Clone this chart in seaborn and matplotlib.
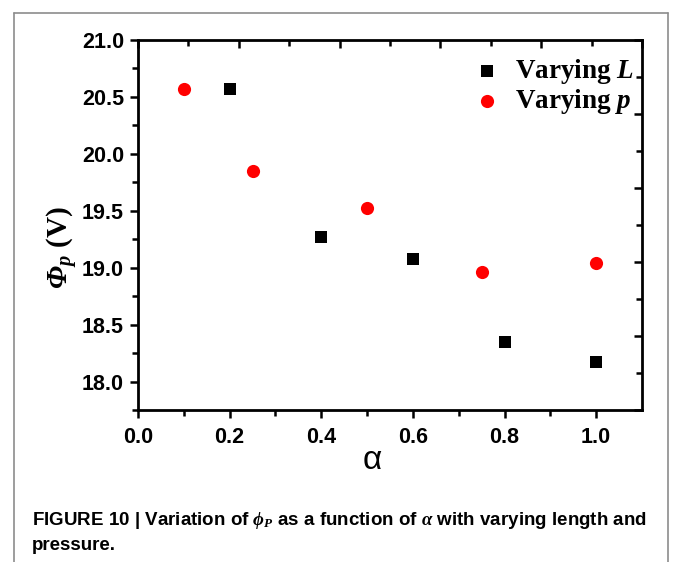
import numpy as np
import pandas as pd
import matplotlib
matplotlib.use('Agg')
import matplotlib.pyplot as plt
import seaborn as sns
from matplotlib.lines import Line2D

# ---- data ----
alpha_L = [0.2, 0.4, 0.6, 0.8, 1.0]
phi_L = [20.57, 19.27, 19.08, 18.35, 18.17]
alpha_p = [0.1, 0.25, 0.5, 0.75, 1.0]
phi_p = [20.57, 19.85, 19.52, 18.96, 19.04]
series_names = ['Varying $L$', 'Varying $p$']
xtick_vals = [0.0, 0.2, 0.4, 0.6, 0.8, 1.0]
ytick_vals = [18.0, 18.5, 19.0, 19.5, 20.0, 20.5, 21.0]
caption1 = r'FIGURE 10 | Variation of $\phi_P$ as a function of $\alpha$ with varying length and'
caption2 = 'pressure.'

sns.set_theme(style='ticks', rc={'axes.edgecolor': 'black', 'xtick.color': 'black',
                                 'ytick.color': 'black', 'text.color': 'black',
                                 'axes.labelcolor': 'black'})
plt.rcParams['font.family'] = ['Liberation Sans', 'DejaVu Sans']
plt.rcParams['mathtext.fontset'] = 'custom'
plt.rcParams['mathtext.it'] = 'Liberation Serif:italic:bold'
plt.rcParams['mathtext.rm'] = 'Liberation Serif:italic:bold'
plt.rcParams['mathtext.bf'] = 'Liberation Serif:bold'

W, H = 673, 562
fig = plt.figure(figsize=(W / 100, H / 100), dpi=100)
ax = fig.add_axes([138 / W, 1 - 410 / H, (642 - 138) / W, (410 - 40) / H])

df_L = pd.DataFrame({'alpha': alpha_L, 'phi': phi_L})
df_p = pd.DataFrame({'alpha': alpha_p, 'phi': phi_p})
sns.scatterplot(data=df_L, x='alpha', y='phi', marker='s', color='black', s=64,
                linewidth=0, label=series_names[0], ax=ax, zorder=3)
sns.scatterplot(data=df_p, x='alpha', y='phi', marker='o', color='#ff0000', s=90,
                linewidth=0, label=series_names[1], ax=ax, zorder=3)

ax.set_xlim(0, 1.1)
ax.set_ylim(17.75, 21.0)
ax.set_xlabel('')
ax.set_ylabel('')
ax.set_xticks(xtick_vals)
ax.set_xticklabels([f'{v:.1f}' for v in xtick_vals], fontweight='bold', fontsize=15.5)
ax.set_yticks(ytick_vals)
ax.set_yticklabels([f'{v:.1f}' for v in ytick_vals], fontweight='bold', fontsize=15.5)
ax.set_xticks(np.arange(0.1, 1.1, 0.2), minor=True)
ax.set_yticks(np.arange(17.75, 21.0, 0.5), minor=True)
ax.tick_params(which='both', direction='out', width=1.8, bottom=True, left=True,
               top=False, right=False)
ax.tick_params(axis='x', which='both', pad=6)
ax.tick_params(axis='y', which='both', pad=4)
ax.tick_params(which='major', length=6)
ax.tick_params(which='minor', length=4)
for s in ax.spines.values():
    s.set_linewidth(2)
    s.set_visible(True)

# top & right inward ticks (independent 10-division scales)
axt = ax.twiny()
axt.set_xlim(0, 1.1)
axt.set_xticks(np.linspace(0, 1.1, 6))
axt.set_xticks(np.linspace(0, 1.1, 11), minor=True)
axt.tick_params(which='both', direction='in', width=1.8, top=True, labeltop=False,
                bottom=False, labelbottom=False)
axt.tick_params(which='major', length=6)
axt.tick_params(which='minor', length=4)
axr = ax.twinx()
axr.set_ylim(17.75, 21.0)
axr.set_yticks(np.linspace(17.75, 21.0, 6))
axr.set_yticks(np.linspace(17.75, 21.0, 11), minor=True)
axr.tick_params(which='both', direction='in', width=1.8, right=True, labelright=False,
                left=False, labelleft=False)
axr.tick_params(which='major', length=6)
axr.tick_params(which='minor', length=4)
for a in (axt, axr):
    for s in a.spines.values():
        s.set_visible(False)

leg = ax.legend(loc='upper right', bbox_to_anchor=(0.985, 0.955), frameon=False,
                prop={'family': 'Liberation Serif', 'weight': 'bold', 'size': 19.5},
                handlelength=1.0, handletextpad=0.55, labelspacing=0.05, borderpad=0,
                borderaxespad=0)

# axis labels
fig.text(62 / W, 1 - 248 / H, r'$\Phi_{p}$ (V)', rotation=90, fontsize=21,
         fontfamily='Liberation Serif', fontweight='bold', ha='center', va='center')
fig.text(372 / W, 1 - 469 / H, 'α', fontsize=24, ha='center', va='baseline')

# caption
cap_family = ['Liberation Sans Narrow', 'Liberation Sans']
fig.text(32 / W, 1 - 525 / H, caption1, fontsize=13.5, fontweight='bold',
         family=cap_family, va='baseline', ha='left')
fig.text(32 / W, 1 - 550 / H, caption2, fontsize=13.5, fontweight='bold',
         family=cap_family, va='baseline', ha='left')

# frame
fc = '#8c8c8c'
fig.add_artist(Line2D([14 / W, 14 / W], [0, 1 - 13 / H], transform=fig.transFigure, color=fc, lw=1.2))
fig.add_artist(Line2D([668 / W, 668 / W], [0, 1 - 13 / H], transform=fig.transFigure, color=fc, lw=1.2))
fig.add_artist(Line2D([14 / W, 668 / W], [1 - 13 / H, 1 - 13 / H], transform=fig.transFigure, color=fc, lw=1.2))

fig.savefig('out.png', dpi=100)
